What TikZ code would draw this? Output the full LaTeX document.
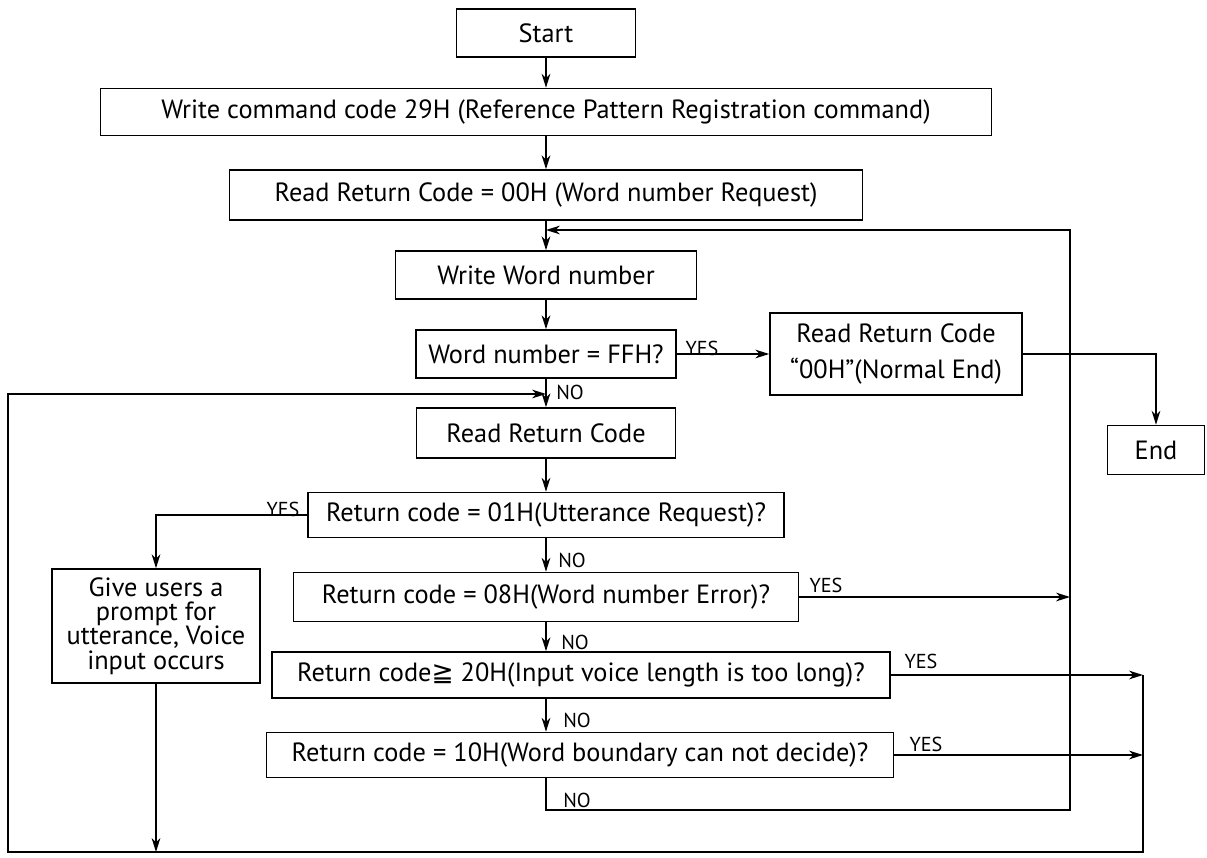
\documentclass[tikz,border=0pt]{standalone}
\usepackage{fontspec}
\setmainfont{PT Sans}
\newfontfamily\symfont{DejaVu Sans}
\usetikzlibrary{arrows.meta, positioning, calc}

\begin{document}
\begin{tikzpicture}[x=0.02cm, y=-0.02cm, font=\fontsize{15}{18}\selectfont, line width=0.8pt,
    flowbox/.style={draw, line width=0.9pt, inner sep=0pt, align=center},
    boxsize/.style 2 args={minimum width=#1*0.02cm, minimum height=#2*0.02cm},
    flowarrow/.style={-{Stealth[length=8pt,width=5pt]}},
    answer/.style={font=\fontsize{11.5}{13}\selectfont, inner sep=1pt}]
      \useasboundingbox (0,0) rectangle (1207,858);
      \node[flowbox, boxsize={179}{48}] (start) at (546,33) {Start};
      \node[flowbox, boxsize={891}{47}] (cmd) at (546,112) {Write command code 29H (Reference Pattern Registration command)};
      \node[flowbox, boxsize={633}{50}] (req) at (546,195) {Read Return Code = 00H (Word number Request)};
      \node[flowbox, boxsize={301}{48}] (wwn) at (546,275) {Write Word number};
      \node[flowbox, boxsize={260}{48}] (ffh) at (546,354) {Word number = FFH?};
      \node[flowbox, boxsize={252}{82}, font=\fontsize{15}{20}\selectfont] (normal) at (896,354) {Read Return Code\\“00H”(Normal End)};
      \node[flowbox, boxsize={97}{49}] (end) at (1156,450) {End};
      \node[flowbox, boxsize={259}{50}] (rrc) at (546,433) {Read Return Code};
      \node[flowbox, boxsize={476}{45}] (utt) at (546,515) {Return code = 01H(Utterance Request)?};
      \node[flowbox, boxsize={208}{114}, font=\fontsize{15}{13.8}\selectfont] (give) at (156,626) {Give users a\\prompt for\\utterance, Voice\\input occurs};
      \node[flowbox, boxsize={505}{49}] (err) at (546,597) {Return code = 08H(Word number Error)?};
      \node[flowbox, boxsize={618}{46}] (long) at (581,675) {Return code{\symfont ≧} 20H(Input voice length is too long)?};
      \node[flowbox, boxsize={627}{45}] (bnd) at (580,755) {Return code = 10H(Word boundary can not decide)?};
      \coordinate (rightloop) at (1070,230);
      \coordinate (outerloop) at (1143,852);
      \coordinate (leftloop) at (8,394);
      \coordinate (nobend) at (546,810);
      \draw[flowarrow] (start) -- (cmd);
      \draw[flowarrow] (cmd) -- (req);
      \draw[flowarrow] (req) -- (wwn);
      \draw[flowarrow] (wwn) -- (ffh);
      \draw[flowarrow] (ffh) -- (rrc);
      \draw[flowarrow] (rrc) -- (utt);
      \draw[flowarrow] (utt) -- (err);
      \draw[flowarrow] (err.south) -- (err.south |- long.north);
      \draw[flowarrow] (err.south |- long.south) -- (err.south |- bnd.north);
      \draw[flowarrow] (ffh.east) -- (normal.west);
      \draw[flowarrow] (normal.east) -| (end.north);
      \draw[flowarrow] (utt.west) -| (give.north);
      \draw[flowarrow] (give.south) -- (give.south |- outerloop);
      \draw[flowarrow] (err.east) -- (err.east -| rightloop);
      \draw[flowarrow] (long.east) -- (long.east -| outerloop);
      \draw[flowarrow] (bnd.east) -- (bnd.east -| outerloop);
      \draw[flowarrow] (bnd.south -| nobend) -- (nobend) -| (rightloop) -- (rightloop -| req.south);
      \draw[flowarrow] (long.east -| outerloop) -- (outerloop) -| (leftloop) -- (leftloop -| rrc.north);
      \foreach \nox/\noy in {570/392,572/560,575/642,577/720,577/800}{
        \node[answer] at (\nox,\noy) {NO};
      }
      \foreach \yesx/\yesy in {702/348,283/509,826/585,921/661,926/744}{
        \node[answer] at (\yesx,\yesy) {YES};
      }
    \end{tikzpicture}
\end{document}
